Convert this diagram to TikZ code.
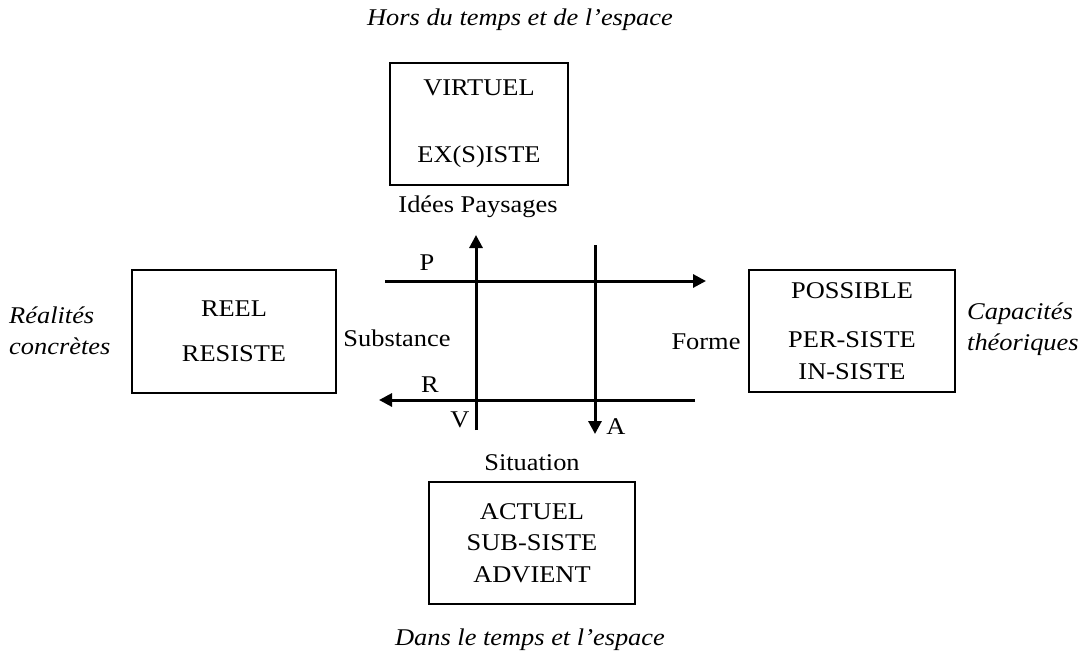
\documentclass[tikz,border=0pt]{standalone}
\usepackage{fontspec}
\setmainfont[FakeStretch=1.1]{Liberation Serif}
\usetikzlibrary{arrows.meta}
\begin{document}
\begin{tikzpicture}[x=1pt,y=-1pt,
  every node/.style={font=\fontsize{24}{31.5}\selectfont, inner sep=0pt},
  box/.style={draw, line width=1.2pt, align=center},
  lab/.style={},
  ital/.style={font=\fontsize{24}{31.5}\selectfont\itshape},
  axis/.style={line width=3pt, -{Triangle[length=13pt,width=13pt]}}]
\useasboundingbox (0,0) rectangle (1082,654);
% boxes
\node[box, minimum width=178pt, minimum height=122pt] (virt) at (479,124) {VIRTUEL\\[35.5pt]EX(S)ISTE};
\node[box, minimum width=204pt, minimum height=123pt] (reel) at (234,331.5) {REEL\\[13.5pt]RESISTE};
\node[box, minimum width=206pt, minimum height=122pt] (poss) at (852,331) {POSSIBLE\\[17.5pt]PER-SISTE\\IN-SISTE};
\node[box, minimum width=206pt, minimum height=122pt] (act) at (532,543) {ACTUEL\\SUB-SISTE\\ADVIENT};
% outer italic labels
\node[ital] (hors) at (520,20) {Hors du temps et de l’espace};
\node[ital] (dans) at (530,640) {Dans le temps et l’espace};
\node[ital, align=left, anchor=west] (real) at (9,331) {Réalités\\concrètes};
\node[ital, align=left, anchor=west] (capa) at (967,329) {Capacités\\théoriques};
% inner labels
\node[lab] (idees) at (478,207) {Idées Paysages};
\node[lab] (situ) at (532,463) {Situation};
\node[lab] (subst) at (397,338) {Substance};
\node[lab] (forme) at (706,342) {Forme};
\node[lab] (P) at (427,263) {P};
\node[lab] (R) at (430,385) {R};
\node[lab] (V) at (460,420) {V};
\node[lab] (A) at (616,427) {A};
% axes
\coordinate (p0) at (385,281); \coordinate (p1) at (706,281);
\coordinate (r0) at (695,400); \coordinate (r1) at (379,400);
\coordinate (v0) at (476,430); \coordinate (v1) at (476,235);
\coordinate (a0) at (595,245); \coordinate (a1) at (595,434);
\draw[axis] (p0) -- (p1);
\draw[axis] (r0) -- (r1);
\draw[axis] (v0) -- (v1);
\draw[axis] (a0) -- (a1);
\end{tikzpicture}
\end{document}
